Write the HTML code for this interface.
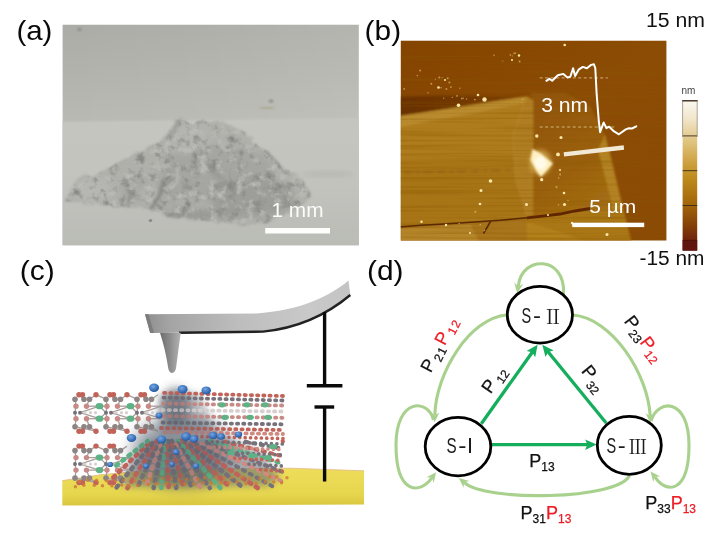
<!DOCTYPE html>
<html lang="en"><head><meta charset="utf-8"><title>Figure</title>
<style>html,body{margin:0;padding:0;background:#fff;}svg{display:block;opacity:0.999;}</style></head>
<body>
<svg width="720" height="551" viewBox="0 0 720 551">
<rect width="720" height="551" fill="#ffffff"/>

<defs>
  <clipPath id="clipA"><rect x="62.6" y="24.8" width="296.2" height="220.5"/></clipPath>
  <clipPath id="clipPile"><polygon points="64.0,200.0 70.0,193.0 77.0,180.0 83.0,175.0 96.0,174.0 108.0,170.0 121.0,162.0 134.0,153.0 147.0,147.0 158.0,142.0 166.0,135.0 172.0,128.0 176.0,120.0 181.0,118.0 186.0,122.0 192.0,124.0 199.0,120.0 206.0,122.0 214.0,120.0 222.0,122.0 230.0,124.0 239.0,130.0 247.0,135.0 256.0,143.0 266.0,150.0 278.0,161.0 288.0,169.0 296.0,175.0 303.0,180.0 308.0,188.0 309.0,196.0 305.0,203.0 298.0,208.0 286.0,215.0 270.0,222.0 256.0,225.0 242.0,225.0 225.0,223.0 200.0,221.0 185.0,220.0 172.0,218.0 158.0,211.0 140.0,208.0 124.0,207.0 105.0,206.0 88.0,205.0 72.0,203.0"/></clipPath>
  <clipPath id="clipB"><rect x="400.8" y="40.7" width="265.6" height="199.9"/></clipPath>
  <linearGradient id="gA1" x1="0" y1="0" x2="0" y2="1">
    <stop offset="0" stop-color="#abaca5"/><stop offset="0.43" stop-color="#b9b9b3"/><stop offset="1" stop-color="#b9b9b3"/>
  </linearGradient>
  <linearGradient id="gA3" x1="0" y1="0" x2="1" y2="0">
    <stop offset="0" stop-color="#ffffff" stop-opacity="0"/><stop offset="0.4" stop-color="#ffffff" stop-opacity="0.03"/><stop offset="1" stop-color="#ffffff" stop-opacity="0.1"/>
  </linearGradient>
  <linearGradient id="gA2" x1="0" y1="0" x2="0" y2="1">
    <stop offset="0" stop-color="#c5c6c0"/><stop offset="0.5" stop-color="#c2c3bd"/><stop offset="1" stop-color="#babbb5"/>
  </linearGradient>
  <linearGradient id="gB1" x1="0" y1="0" x2="1" y2="1">
    <stop offset="0" stop-color="#844400"/><stop offset="0.5" stop-color="#8c4c05"/><stop offset="1" stop-color="#8b4b05"/>
  </linearGradient>
  <linearGradient id="gRF" gradientUnits="userSpaceOnUse" x1="535" y1="110" x2="625" y2="240">
    <stop offset="0" stop-color="#93560a"/><stop offset="0.45" stop-color="#9b610d"/><stop offset="1" stop-color="#ab7919"/>
  </linearGradient>
  <linearGradient id="gBand" x1="0" y1="0" x2="1" y2="0">
    <stop offset="0" stop-color="#6a3000"/><stop offset="0.45" stop-color="#703600"/><stop offset="1" stop-color="#854500"/>
  </linearGradient>
  <linearGradient id="gCB" x1="0" y1="0" x2="0" y2="1">
    <stop offset="0" stop-color="#fbf8f0"/><stop offset="0.12" stop-color="#f1e6cc"/><stop offset="0.25" stop-color="#e2c98a"/>
    <stop offset="0.40" stop-color="#cfa445"/><stop offset="0.52" stop-color="#bd8a1c"/><stop offset="0.68" stop-color="#a4680c"/>
    <stop offset="0.82" stop-color="#874408"/><stop offset="0.93" stop-color="#70230c"/><stop offset="1" stop-color="#650e10"/>
  </linearGradient>
  <linearGradient id="gSub" x1="0" y1="0" x2="0" y2="1">
    <stop offset="0" stop-color="#eddd5a"/><stop offset="0.7" stop-color="#e6d64e"/><stop offset="1" stop-color="#d9c63f"/>
  </linearGradient>
  <linearGradient id="gCant" x1="0" y1="0" x2="1" y2="0">
    <stop offset="0" stop-color="#8e8e8e"/><stop offset="0.12" stop-color="#a4a4a4"/><stop offset="0.45" stop-color="#bdbdbd"/><stop offset="0.8" stop-color="#c9c9c9"/><stop offset="1" stop-color="#c4c4c4"/>
  </linearGradient>
  <linearGradient id="gTip" x1="0" y1="0" x2="1" y2="0">
    <stop offset="0" stop-color="#6c6c6c"/><stop offset="0.5" stop-color="#8e8e8e"/><stop offset="1" stop-color="#b4b4b4"/>
  </linearGradient>
  <radialGradient id="gBlue" cx="0.4" cy="0.35" r="0.7">
    <stop offset="0" stop-color="#78a6e0"/><stop offset="0.6" stop-color="#3b74bd"/><stop offset="1" stop-color="#285496"/>
  </radialGradient>
  <filter id="fB04" x="-2%" y="-5%" width="104%" height="110%"><feGaussianBlur stdDeviation="0.55"/></filter>
  <filter id="fB05" x="-20%" y="-20%" width="140%" height="140%"><feGaussianBlur stdDeviation="0.5"/></filter>
  <filter id="fB1" x="-20%" y="-20%" width="140%" height="140%"><feGaussianBlur stdDeviation="1"/></filter>
  <filter id="fB15" x="-5%" y="-5%" width="110%" height="110%"><feGaussianBlur stdDeviation="1.3"/></filter>
  <filter id="fB2" x="-20%" y="-50%" width="140%" height="200%"><feGaussianBlur stdDeviation="2"/></filter>
  <filter id="fB3" x="-30%" y="-30%" width="160%" height="160%"><feGaussianBlur stdDeviation="3.5"/></filter>
  <filter id="fB5" x="-50%" y="-50%" width="200%" height="200%"><feGaussianBlur stdDeviation="5"/></filter>
  <filter id="fB8" x="-50%" y="-50%" width="200%" height="200%"><feGaussianBlur stdDeviation="8"/></filter>
  <filter id="fStreak" x="0" y="0" width="100%" height="100%">
    <feTurbulence type="fractalNoise" baseFrequency="0.006 0.4" numOctaves="2" seed="11" result="t"/>
    <feColorMatrix in="t" type="matrix" values="0 0 0 0 0.25  0 0 0 0 0.1  0 0 0 0 0  0 0 0 -3 1.6"/>
  </filter>
  <filter id="fPile" x="-5%" y="-5%" width="110%" height="110%">
    <feTurbulence type="fractalNoise" baseFrequency="0.08" numOctaves="3" seed="7" result="n"/>
    <feDisplacementMap in="SourceGraphic" in2="n" scale="7" xChannelSelector="R" yChannelSelector="G" result="d"/>
    <feGaussianBlur in="d" stdDeviation="1.1" result="db"/>
    <feTurbulence type="fractalNoise" baseFrequency="0.11" numOctaves="4" seed="3" result="n2"/>
    <feColorMatrix in="n2" type="matrix" values="0 0 0 0 0  0 0 0 0 0  0 0 0 0 0  3.0 0 0 0 -1.5" result="a2"/>
    <feFlood flood-color="#888884" result="fl"/>
    <feComposite in="fl" in2="a2" operator="in" result="spots"/>
    <feComposite in="spots" in2="db" operator="in" result="spots2"/>
    <feColorMatrix in="n2" type="matrix" values="0 0 0 0 0  0 0 0 0 0  0 0 0 0 0  0 -3.2 0 0 1.5" result="a3"/>
    <feFlood flood-color="#bdbdb8" result="fl2"/>
    <feComposite in="fl2" in2="a3" operator="in" result="lt"/>
    <feComposite in="lt" in2="db" operator="in" result="lt2"/>
    <feMerge result="m"><feMergeNode in="db"/><feMergeNode in="spots2"/><feMergeNode in="lt2"/></feMerge>
    <feGaussianBlur in="m" stdDeviation="0.55"/>
  </filter>
</defs>


<g clip-path="url(#clipA)">
  <rect x="62" y="24" width="298" height="222" fill="url(#gA1)"/>
  <rect x="62" y="24" width="298" height="100" fill="url(#gA3)"/>
  <polygon points="55,121.8 365,118.2 365,250 55,250" fill="url(#gA2)" filter="url(#fB1)"/>
  <g filter="url(#fPile)">
    <polygon points="64.0,200.0 70.0,193.0 77.0,180.0 83.0,175.0 96.0,174.0 108.0,170.0 121.0,162.0 134.0,153.0 147.0,147.0 158.0,142.0 166.0,135.0 172.0,128.0 176.0,120.0 181.0,118.0 186.0,122.0 192.0,124.0 199.0,120.0 206.0,122.0 214.0,120.0 222.0,122.0 230.0,124.0 239.0,130.0 247.0,135.0 256.0,143.0 266.0,150.0 278.0,161.0 288.0,169.0 296.0,175.0 303.0,180.0 308.0,188.0 309.0,196.0 305.0,203.0 298.0,208.0 286.0,215.0 270.0,222.0 256.0,225.0 242.0,225.0 225.0,223.0 200.0,221.0 185.0,220.0 172.0,218.0 158.0,211.0 140.0,208.0 124.0,207.0 105.0,206.0 88.0,205.0 72.0,203.0" fill="#b0b0ab"/>
    <g clip-path="url(#clipPile)"><g filter="url(#fB3)">
    <ellipse cx="218" cy="174" rx="58" ry="28" fill="#a5a5a1"/>
    <ellipse cx="252" cy="198" rx="42" ry="20" fill="#9d9d99"/>
    <ellipse cx="155" cy="190" rx="35" ry="14" fill="#a4a4a0"/>
    <ellipse cx="92" cy="189" rx="20" ry="11" fill="#b6b6b2"/>
    <ellipse cx="190" cy="138" rx="20" ry="13" fill="#b4b4b0"/>
    <ellipse cx="190" cy="215" rx="45" ry="6" fill="#989894"/>
    <ellipse cx="151" cy="193" rx="13" ry="10" fill="#b3b3af"/>
    </g>
    <g filter="url(#fB15)" fill="none" stroke-linecap="round">
      <path d="M128,181 L130,203" stroke="#8c8c88" stroke-width="4"/>
      <path d="M169,173 L160,192 L152,208" stroke="#878783" stroke-width="4"/>
      <path d="M112,167 L134,150 L160,141" stroke="#9a9a96" stroke-width="3"/>
      <path d="M200,150 L215,175 L240,190" stroke="#959591" stroke-width="3"/>
      <path d="M178,122 L170,140" stroke="#9a9a96" stroke-width="3"/>
    </g></g>
  </g>
  <ellipse cx="328" cy="174" rx="26" ry="2.5" fill="#b2b2ac" opacity="0.7" filter="url(#fB2)"/>
  <ellipse cx="79.5" cy="29.5" rx="2.2" ry="1.8" fill="#8e8e8a" filter="url(#fB1)"/>
  <ellipse cx="271" cy="101" rx="2.5" ry="1.6" fill="#8c8c86" filter="url(#fB1)"/>
  <ellipse cx="267" cy="108" rx="8" ry="1" fill="#a8a890" filter="url(#fB1)"/>
  <ellipse cx="150.5" cy="220.5" rx="1.8" ry="1.5" fill="#8a8a86" filter="url(#fB05)"/>
</g>
<rect x="265.2" y="228" width="64.8" height="5.5" fill="#fdfdfb"/>
<text x="271.5" y="217.3" font-size="20" fill="#fbfbf8" font-family="'Liberation Sans', Arial, sans-serif" textLength="52" lengthAdjust="spacingAndGlyphs">1 mm</text>


<g clip-path="url(#clipB)">
  <rect x="400" y="40" width="268" height="202" fill="url(#gB1)"/>
  <g filter="url(#fB15)">
    <!-- dark step band -->
    <polygon points="400,96.5 440,95.5 490,95.5 527,94.5 531,97 500,101.5 459,108 430,112.5 400,118" fill="url(#gBand)"/>
    <!-- left big flake -->
    <polygon points="400,116 430,111.5 459,107 500,100.5 527,96.5 533.5,100 533.5,215 527,217.5 500,220 475,222 440,224 400,226.5" fill="#ae7c1e"/>
    <polygon points="400,116 430,111.5 459,107 500,100.5 527,96.5 529,103 500,108 459,116 430,121 400,127" fill="#b98b2e"/>
    <polygon points="400,160 520,155 530,215 400,226" fill="#a06c14" opacity="0.45"/>
    <!-- fold -->
    <polygon points="527,97 533.5,101 533.5,215 528,217 517,180 512.5,135" fill="#b07e20"/>
    <polyline points="526,98 513,135 516,180 527,216" fill="none" stroke="#b5862a" stroke-width="1.3"/>
    <line x1="404" y1="172.5" x2="510" y2="170" stroke="#956214" stroke-width="3" stroke-dasharray="7,5,3,4,9,6" opacity="0.55"/>
    <!-- right flake -->
    <polygon points="530,93 565,93 590,106 605,134.5 612,160 622,205 631.5,243 527,243 528,217 533.5,215 533.5,100" fill="url(#gRF)"/>
    <polygon points="605,134.5 631.5,243 619,243 611,200 598,150" fill="#b38222"/>
    <!-- below crack -->
    <polygon points="400,227.5 440,225 475,223 500,221 527,218.5 527,243 400,243" fill="#b5852a"/>
    <polygon points="470,224 500,221 527,218.5 527,243 480,243" fill="#a57116" opacity="0.8"/>
    <polygon points="527,218.5 560,214 585,210.5 600,210 623,210 631.5,243 527,243" fill="#aa7718"/>
    <polygon points="527,222 560,232 590,243 527,243" fill="#b4831f" opacity="0.8"/>
  </g>
  <rect x="400" y="40" width="268" height="202" filter="url(#fStreak)" opacity="0.35"/>
  <polyline points="400,227 421,225.3 440,224.2 475,222 500,220.3 527,217.8" fill="none" stroke="#5a2a00" stroke-width="1.5" filter="url(#fB05)"/>
  <polyline points="527,217.8 545,215.8 560,214 575,211 590,208.5" fill="none" stroke="#5e2602" stroke-width="2.8" filter="url(#fB05)"/>
  <polyline points="490.5,221.5 483.5,233.5" fill="none" stroke="#5a2a00" stroke-width="1.6" filter="url(#fB05)"/>
  <!-- bright particle -->
  <ellipse cx="540.5" cy="162.5" rx="11" ry="13" fill="#e6c46a" opacity="0.55" filter="url(#fB2)"/>
  <g filter="url(#fB1)">
    <polygon points="532.5,149 541,153.5 553,163.5 546,171.5 541,177 536,170.5 530.5,160" fill="#fff1c4"/>
    <ellipse cx="540.5" cy="163" rx="6" ry="6.5" fill="#fffbe8"/>
  </g>
  <g fill="#fbe7a8" filter="url(#fB05)">
  <circle cx="558" cy="154.4" r="1.9"/>
<circle cx="561" cy="137.4" r="1.5"/>
<circle cx="541.7" cy="179.7" r="1.6"/>
<circle cx="536.8" cy="136" r="1.7"/>
<circle cx="458.5" cy="105.2" r="1.8"/>
<circle cx="484.5" cy="99.5" r="2.2"/>
<circle cx="490.5" cy="181" r="1.8"/>
<circle cx="481" cy="190.5" r="1.5"/>
<circle cx="480" cy="204" r="1.3"/>
<circle cx="526.5" cy="204.5" r="1.5"/>
<circle cx="564.5" cy="204.5" r="1.6"/>
<circle cx="564" cy="193" r="1.3"/>
<circle cx="607" cy="234.5" r="1.5"/>
<circle cx="564.7" cy="45" r="1.3"/>
<circle cx="438.5" cy="87.5" r="1.3"/>
<circle cx="519" cy="55.5" r="1.2"/>
<circle cx="446" cy="225" r="1.2"/>
<circle cx="421.5" cy="221.8" r="1.2"/>
<circle cx="572" cy="223" r="1.2"/>
<circle cx="560" cy="170" r="1.0"/>
<circle cx="548" cy="215" r="1.0"/>
<circle cx="470" cy="233" r="1.0"/>
<circle cx="512" cy="60" r="1.0"/>
<circle cx="445" cy="80" r="1.0"/>
<circle cx="478" cy="95" r="1.3"/>
  </g>
  <g fill="#e9c981" opacity="0.6" filter="url(#fB05)">
  <circle cx="428.1" cy="92.7" r="0.7"/>
  <circle cx="446.4" cy="89.0" r="0.9"/>
  <circle cx="450.9" cy="87.1" r="0.9"/>
  <circle cx="441.1" cy="87.7" r="0.8"/>
  <circle cx="439.3" cy="77.4" r="1.0"/>
  <circle cx="452.3" cy="97.4" r="0.7"/>
  <circle cx="404.2" cy="88.9" r="0.9"/>
  <circle cx="447.7" cy="78.3" r="1.0"/>
  <circle cx="457.0" cy="95.9" r="0.9"/>
  <circle cx="442.1" cy="77.6" r="0.6"/>
  <circle cx="443.7" cy="98.2" r="0.7"/>
  <circle cx="449.4" cy="82.5" r="1.0"/>
  <circle cx="514.0" cy="53.4" r="0.8"/>
  <circle cx="510.3" cy="55.1" r="0.8"/>
  <circle cx="515.2" cy="53.1" r="0.9"/>
  <circle cx="519.6" cy="61.4" r="1.0"/>
  <circle cx="512.3" cy="55.9" r="0.6"/>
  <circle cx="510.5" cy="54.7" r="0.6"/>
  <circle cx="494.0" cy="55.3" r="0.8"/>
  <circle cx="502.8" cy="61.0" r="0.6"/>
  <circle cx="461.9" cy="98.5" r="0.9"/>
  <circle cx="474.8" cy="99.6" r="0.9"/>
  <circle cx="463.3" cy="98.2" r="0.7"/>
  <circle cx="522.8" cy="99.4" r="0.7"/>
  <circle cx="459.8" cy="88.2" r="0.7"/>
  <circle cx="466.6" cy="99.0" r="0.8"/>
  <circle cx="420.1" cy="70.5" r="1.0"/>
  <circle cx="431.3" cy="83.8" r="1.0"/>
  <circle cx="417.4" cy="75.6" r="0.8"/>
  <circle cx="435.4" cy="79.1" r="0.6"/>
  <circle cx="558.7" cy="178.1" r="0.8"/>
  <circle cx="558.5" cy="204.8" r="0.8"/>
  <circle cx="568.0" cy="200.4" r="0.7"/>
  <circle cx="556.5" cy="186.9" r="1.0"/>
  <circle cx="560.1" cy="174.6" r="1.0"/>
  <circle cx="480.3" cy="224.8" r="0.8"/>
  <circle cx="484.6" cy="230.4" r="0.8"/>
  <circle cx="459.2" cy="223.5" r="0.8"/>
  <circle cx="475.4" cy="211.8" r="1.0"/>
  </g>
</g>
<!-- profile -->
<line x1="539.7" y1="77.9" x2="607.8" y2="77.9" stroke="#e6d2a4" stroke-width="1" stroke-dasharray="3,2.5" opacity="0.75"/>
<line x1="539.7" y1="127" x2="615.3" y2="127" stroke="#e6d2a4" stroke-width="1" stroke-dasharray="3,2.5" opacity="0.75"/>
<polyline points="546.4,80.8 549.4,78.8 552.2,80.8 557.8,75.3 563.3,73.9 567.5,77.4 570.3,76.7 573.1,68.3 575.1,76.0 578.6,69.7 582.8,66.9 586.9,68.3 591.1,64.9 593.9,64.2 595.3,68.3 596.7,94.7 598.8,121.1 600.1,132.2 603.6,122.5 606.4,128.1 609.2,126.7 613.3,130.8 618.9,134.3 625.8,129.4 628.9,128.3 632.0,128.5 636.3,126.3" fill="none" stroke="#ffffff" stroke-width="2" stroke-linejoin="round" stroke-linecap="round"/>
<line x1="563.9" y1="154.4" x2="623.9" y2="147.5" stroke="#f1e9d6" stroke-width="4.3"/>
<text x="541.2" y="111.6" font-size="19.8" fill="#ffffff" font-family="'Liberation Sans', Arial, sans-serif" textLength="47" lengthAdjust="spacingAndGlyphs">3 nm</text>
<text x="589.2" y="213" font-size="19.2" fill="#ffffff" font-family="'Liberation Sans', Arial, sans-serif" textLength="47" lengthAdjust="spacingAndGlyphs">5 µm</text>
<rect x="572.2" y="222.7" width="72" height="4.4" fill="#ffffff"/>
<!-- colourbar -->
<rect x="682.6" y="100.8" width="14.6" height="149.8" fill="url(#gCB)"/>
<rect x="682.6" y="240.6" width="14.6" height="10" fill="#5f160e"/>
<g stroke="#3a2a1a" stroke-width="0.9">
  <line x1="682.1" y1="100.8" x2="697.7" y2="100.8" stroke-width="1.4"/>
  <line x1="682.6" y1="135.9" x2="697.2" y2="135.9"/>
  <line x1="682.6" y1="170.7" x2="697.2" y2="170.7"/>
  <line x1="682.6" y1="205.5" x2="697.2" y2="205.5"/>
  <line x1="682.6" y1="240.4" x2="697.2" y2="240.4" stroke="#4a1208"/>
</g>
<line x1="682.6" y1="100.8" x2="682.6" y2="137" stroke="#8a8070" stroke-width="0.7"/>
<line x1="697.2" y1="100.8" x2="697.2" y2="137" stroke="#8a8070" stroke-width="0.7"/>
<text x="681.5" y="93.8" font-size="10" fill="#444" font-family="'Liberation Sans', Arial, sans-serif">nm</text>
<text x="646" y="27.2" font-size="20" fill="#111" font-family="'Liberation Sans', Arial, sans-serif" textLength="59" lengthAdjust="spacingAndGlyphs">15 nm</text>
<text x="639.5" y="265.4" font-size="20" fill="#111" font-family="'Liberation Sans', Arial, sans-serif" textLength="65" lengthAdjust="spacingAndGlyphs">-15 nm</text>


<!-- substrate -->
<polygon points="62.3,480.6 80,478 100,474.8 140,471 220,468.6 290,468.2 364,470.8 364,504.6 62.3,505.4" fill="url(#gSub)"/>
<polyline points="62.3,480.6 80,478 100,474.8 140,471 220,468.6 290,468.2 364,470.8" fill="none" stroke="#e3b98a" stroke-width="1" opacity="0.8"/>
<!-- cantilever -->
<path d="M145,314.2 L256,313.4 C300,311 330,296 348.5,280.6 L350.3,295 C330,312 300,328 263,331.6 L150.2,333 Z" fill="url(#gCant)"/>
<path d="M179,332.7 L263,331.6 C300,328 330,312 350.3,295" fill="none" stroke="#222222" stroke-width="2.4"/>
<path d="M145,314.2 L150.2,333 L154,333 L148.5,314.2 Z" fill="#7d7d7d"/>
<path d="M160,332.8 L180.8,332.8 C179,345 177.5,358 176.2,367 C175.6,374.5 169.4,375 168.2,368 C166.5,356 163.5,344 160,332.8 Z" fill="url(#gTip)"/>
<!-- glow under tip -->
<ellipse cx="176" cy="405" rx="15" ry="18" fill="#3a4350" opacity="0.5" filter="url(#fB5)"/>
<ellipse cx="183" cy="452" rx="52" ry="36" fill="#485563" opacity="0.4" filter="url(#fB8)"/>
<polygon points="152,441 225,438 262,452 280,478 268,486 122,487 128,465" fill="#5c6672" opacity="0.55" filter="url(#fB3)"/>
<polygon points="160,395 200,393 215,432 160,436" fill="#5f6874" opacity="0.4" filter="url(#fB3)"/>
<g id="crystal" filter="url(#fB04)">
<line x1="75.0" y1="399.2" x2="76.0" y2="406.2" stroke="#a89e9c" stroke-width="1.3"/>
<line x1="76.0" y1="406.2" x2="75.0" y2="412.7" stroke="#a89e9c" stroke-width="1.3"/>
<line x1="75.0" y1="412.7" x2="76.0" y2="418.7" stroke="#a89e9c" stroke-width="1.3"/>
<line x1="76.0" y1="418.7" x2="75.0" y2="426.7" stroke="#a89e9c" stroke-width="1.3"/>
<line x1="75.0" y1="426.7" x2="96.0" y2="431.2" stroke="#a89e9c" stroke-width="1.3"/>
<line x1="79.0" y1="394.7" x2="84.0" y2="399.2" stroke="#a89e9c" stroke-width="1.3"/>
<line x1="89.5" y1="399.2" x2="96.0" y2="394.7" stroke="#a89e9c" stroke-width="1.3"/>
<line x1="86.5" y1="406.2" x2="89.5" y2="399.2" stroke="#a89e9c" stroke-width="1.3"/>
<line x1="86.5" y1="418.7" x2="89.5" y2="426.7" stroke="#a89e9c" stroke-width="1.3"/>
<line x1="84.0" y1="426.7" x2="79.0" y2="431.2" stroke="#a89e9c" stroke-width="1.3"/>
<line x1="89.5" y1="426.7" x2="96.0" y2="431.2" stroke="#a89e9c" stroke-width="1.3"/>
<line x1="86.5" y1="406.2" x2="99.5" y2="406.2" stroke="#a89e9c" stroke-width="1.3"/>
<line x1="86.5" y1="418.7" x2="99.5" y2="418.7" stroke="#a89e9c" stroke-width="1.3"/>
<line x1="80.0" y1="412.7" x2="99.5" y2="406.2" stroke="#a89e9c" stroke-width="1.3"/>
<line x1="80.0" y1="412.7" x2="99.5" y2="418.7" stroke="#a89e9c" stroke-width="1.3"/>
<circle cx="79.0" cy="394.7" r="2.7" fill="#c2645a"/>
<circle cx="82.5" cy="394.7" r="2.7" fill="#c2645a"/>
<circle cx="75.0" cy="399.2" r="2.8" fill="#8d8484"/>
<circle cx="84.0" cy="399.2" r="2.8" fill="#8d8484"/>
<circle cx="89.5" cy="399.2" r="2.8" fill="#8d8484"/>
<circle cx="76.0" cy="406.2" r="2.7" fill="#c78a85"/>
<circle cx="86.5" cy="406.2" r="2.7" fill="#c78a85"/>
<circle cx="75.0" cy="412.7" r="2.0" fill="#77727a"/>
<circle cx="80.0" cy="412.7" r="2.0" fill="#77727a"/>
<circle cx="85.0" cy="412.7" r="1.6" fill="#d8d0d0"/>
<circle cx="90.5" cy="412.7" r="1.6" fill="#d8d0d0"/>
<circle cx="95.5" cy="412.7" r="1.6" fill="#d8d0d0"/>
<circle cx="76.0" cy="418.7" r="2.7" fill="#c78a85"/>
<circle cx="86.5" cy="418.7" r="2.7" fill="#c78a85"/>
<circle cx="75.0" cy="426.7" r="2.8" fill="#8d8484"/>
<circle cx="84.0" cy="426.7" r="2.8" fill="#8d8484"/>
<circle cx="89.5" cy="426.7" r="2.8" fill="#8d8484"/>
<circle cx="79.0" cy="431.2" r="2.7" fill="#c2645a"/>
<circle cx="82.5" cy="431.2" r="2.7" fill="#c2645a"/>
<line x1="96.0" y1="394.7" x2="106.0" y2="399.2" stroke="#a89e9c" stroke-width="1.3"/>
<line x1="106.0" y1="399.2" x2="107.0" y2="406.2" stroke="#a89e9c" stroke-width="1.3"/>
<line x1="107.0" y1="406.2" x2="106.0" y2="412.7" stroke="#a89e9c" stroke-width="1.3"/>
<line x1="106.0" y1="412.7" x2="107.0" y2="418.7" stroke="#a89e9c" stroke-width="1.3"/>
<line x1="107.0" y1="418.7" x2="106.0" y2="426.7" stroke="#a89e9c" stroke-width="1.3"/>
<line x1="106.0" y1="426.7" x2="127.0" y2="431.2" stroke="#a89e9c" stroke-width="1.3"/>
<line x1="110.0" y1="394.7" x2="115.0" y2="399.2" stroke="#a89e9c" stroke-width="1.3"/>
<line x1="120.5" y1="399.2" x2="127.0" y2="394.7" stroke="#a89e9c" stroke-width="1.3"/>
<line x1="117.5" y1="406.2" x2="120.5" y2="399.2" stroke="#a89e9c" stroke-width="1.3"/>
<line x1="117.5" y1="418.7" x2="120.5" y2="426.7" stroke="#a89e9c" stroke-width="1.3"/>
<line x1="115.0" y1="426.7" x2="110.0" y2="431.2" stroke="#a89e9c" stroke-width="1.3"/>
<line x1="120.5" y1="426.7" x2="127.0" y2="431.2" stroke="#a89e9c" stroke-width="1.3"/>
<line x1="99.5" y1="406.2" x2="107.0" y2="406.2" stroke="#a89e9c" stroke-width="1.3"/>
<line x1="99.5" y1="418.7" x2="107.0" y2="418.7" stroke="#a89e9c" stroke-width="1.3"/>
<line x1="117.5" y1="406.2" x2="130.5" y2="406.2" stroke="#a89e9c" stroke-width="1.3"/>
<line x1="117.5" y1="418.7" x2="130.5" y2="418.7" stroke="#a89e9c" stroke-width="1.3"/>
<line x1="99.5" y1="406.2" x2="106.0" y2="412.7" stroke="#a89e9c" stroke-width="1.3"/>
<line x1="99.5" y1="418.7" x2="106.0" y2="412.7" stroke="#a89e9c" stroke-width="1.3"/>
<line x1="111.0" y1="412.7" x2="130.5" y2="406.2" stroke="#a89e9c" stroke-width="1.3"/>
<line x1="111.0" y1="412.7" x2="130.5" y2="418.7" stroke="#a89e9c" stroke-width="1.3"/>
<circle cx="96.0" cy="394.7" r="2.7" fill="#c2645a"/>
<circle cx="110.0" cy="394.7" r="2.7" fill="#c2645a"/>
<circle cx="113.5" cy="394.7" r="2.7" fill="#c2645a"/>
<circle cx="106.0" cy="399.2" r="2.8" fill="#8d8484"/>
<circle cx="115.0" cy="399.2" r="2.8" fill="#8d8484"/>
<circle cx="120.5" cy="399.2" r="2.8" fill="#8d8484"/>
<circle cx="107.0" cy="406.2" r="2.7" fill="#c78a85"/>
<circle cx="117.5" cy="406.2" r="2.7" fill="#c78a85"/>
<ellipse cx="99.5" cy="406.2" rx="3.9" ry="3.1" fill="#5fb286"/>
<circle cx="106.0" cy="412.7" r="2.0" fill="#77727a"/>
<circle cx="111.0" cy="412.7" r="2.0" fill="#77727a"/>
<circle cx="116.0" cy="412.7" r="1.6" fill="#d8d0d0"/>
<circle cx="121.5" cy="412.7" r="1.6" fill="#d8d0d0"/>
<circle cx="126.5" cy="412.7" r="1.6" fill="#d8d0d0"/>
<circle cx="107.0" cy="418.7" r="2.7" fill="#c78a85"/>
<circle cx="117.5" cy="418.7" r="2.7" fill="#c78a85"/>
<ellipse cx="99.5" cy="418.7" rx="3.9" ry="3.1" fill="#5fb286"/>
<circle cx="106.0" cy="426.7" r="2.8" fill="#8d8484"/>
<circle cx="115.0" cy="426.7" r="2.8" fill="#8d8484"/>
<circle cx="120.5" cy="426.7" r="2.8" fill="#8d8484"/>
<circle cx="96.0" cy="431.2" r="2.7" fill="#c2645a"/>
<circle cx="110.0" cy="431.2" r="2.7" fill="#c2645a"/>
<circle cx="113.5" cy="431.2" r="2.7" fill="#c2645a"/>
<line x1="127.0" y1="394.7" x2="137.0" y2="399.2" stroke="#a89e9c" stroke-width="1.3"/>
<line x1="137.0" y1="399.2" x2="138.0" y2="406.2" stroke="#a89e9c" stroke-width="1.3"/>
<line x1="138.0" y1="406.2" x2="137.0" y2="412.7" stroke="#a89e9c" stroke-width="1.3"/>
<line x1="137.0" y1="412.7" x2="138.0" y2="418.7" stroke="#a89e9c" stroke-width="1.3"/>
<line x1="138.0" y1="418.7" x2="137.0" y2="426.7" stroke="#a89e9c" stroke-width="1.3"/>
<line x1="137.0" y1="426.7" x2="158.0" y2="431.2" stroke="#a89e9c" stroke-width="1.3"/>
<line x1="141.0" y1="394.7" x2="146.0" y2="399.2" stroke="#a89e9c" stroke-width="1.3"/>
<line x1="151.5" y1="399.2" x2="158.0" y2="394.7" stroke="#a89e9c" stroke-width="1.3"/>
<line x1="148.5" y1="406.2" x2="151.5" y2="399.2" stroke="#a89e9c" stroke-width="1.3"/>
<line x1="148.5" y1="418.7" x2="151.5" y2="426.7" stroke="#a89e9c" stroke-width="1.3"/>
<line x1="146.0" y1="426.7" x2="141.0" y2="431.2" stroke="#a89e9c" stroke-width="1.3"/>
<line x1="151.5" y1="426.7" x2="158.0" y2="431.2" stroke="#a89e9c" stroke-width="1.3"/>
<line x1="130.5" y1="406.2" x2="138.0" y2="406.2" stroke="#a89e9c" stroke-width="1.3"/>
<line x1="130.5" y1="418.7" x2="138.0" y2="418.7" stroke="#a89e9c" stroke-width="1.3"/>
<line x1="148.5" y1="406.2" x2="161.5" y2="406.2" stroke="#a89e9c" stroke-width="1.3"/>
<line x1="148.5" y1="418.7" x2="161.5" y2="418.7" stroke="#a89e9c" stroke-width="1.3"/>
<line x1="130.5" y1="406.2" x2="137.0" y2="412.7" stroke="#a89e9c" stroke-width="1.3"/>
<line x1="130.5" y1="418.7" x2="137.0" y2="412.7" stroke="#a89e9c" stroke-width="1.3"/>
<line x1="142.0" y1="412.7" x2="161.5" y2="406.2" stroke="#a89e9c" stroke-width="1.3"/>
<line x1="142.0" y1="412.7" x2="161.5" y2="418.7" stroke="#a89e9c" stroke-width="1.3"/>
<circle cx="127.0" cy="394.7" r="2.7" fill="#c2645a"/>
<circle cx="141.0" cy="394.7" r="2.7" fill="#c2645a"/>
<circle cx="144.5" cy="394.7" r="2.7" fill="#c2645a"/>
<circle cx="137.0" cy="399.2" r="2.8" fill="#8d8484"/>
<circle cx="146.0" cy="399.2" r="2.8" fill="#8d8484"/>
<circle cx="151.5" cy="399.2" r="2.8" fill="#8d8484"/>
<circle cx="138.0" cy="406.2" r="2.7" fill="#c78a85"/>
<circle cx="148.5" cy="406.2" r="2.7" fill="#c78a85"/>
<ellipse cx="130.5" cy="406.2" rx="3.9" ry="3.1" fill="#5fb286"/>
<circle cx="137.0" cy="412.7" r="2.0" fill="#77727a"/>
<circle cx="142.0" cy="412.7" r="2.0" fill="#77727a"/>
<circle cx="147.0" cy="412.7" r="1.6" fill="#d8d0d0"/>
<circle cx="152.5" cy="412.7" r="1.6" fill="#d8d0d0"/>
<circle cx="157.5" cy="412.7" r="1.6" fill="#d8d0d0"/>
<circle cx="138.0" cy="418.7" r="2.7" fill="#c78a85"/>
<circle cx="148.5" cy="418.7" r="2.7" fill="#c78a85"/>
<ellipse cx="130.5" cy="418.7" rx="3.9" ry="3.1" fill="#5fb286"/>
<circle cx="137.0" cy="426.7" r="2.8" fill="#8d8484"/>
<circle cx="146.0" cy="426.7" r="2.8" fill="#8d8484"/>
<circle cx="151.5" cy="426.7" r="2.8" fill="#8d8484"/>
<circle cx="127.0" cy="431.2" r="2.7" fill="#c2645a"/>
<circle cx="141.0" cy="431.2" r="2.7" fill="#c2645a"/>
<circle cx="144.5" cy="431.2" r="2.7" fill="#c2645a"/>
<line x1="75.0" y1="450.6" x2="76.0" y2="457.6" stroke="#a89e9c" stroke-width="1.3"/>
<line x1="76.0" y1="457.6" x2="75.0" y2="464.1" stroke="#a89e9c" stroke-width="1.3"/>
<line x1="75.0" y1="464.1" x2="76.0" y2="470.1" stroke="#a89e9c" stroke-width="1.3"/>
<line x1="76.0" y1="470.1" x2="75.0" y2="478.1" stroke="#a89e9c" stroke-width="1.3"/>
<line x1="75.0" y1="478.1" x2="96.0" y2="482.6" stroke="#a89e9c" stroke-width="1.3"/>
<line x1="79.0" y1="446.1" x2="84.0" y2="450.6" stroke="#a89e9c" stroke-width="1.3"/>
<line x1="89.5" y1="450.6" x2="96.0" y2="446.1" stroke="#a89e9c" stroke-width="1.3"/>
<line x1="86.5" y1="457.6" x2="89.5" y2="450.6" stroke="#a89e9c" stroke-width="1.3"/>
<line x1="86.5" y1="470.1" x2="89.5" y2="478.1" stroke="#a89e9c" stroke-width="1.3"/>
<line x1="84.0" y1="478.1" x2="79.0" y2="482.6" stroke="#a89e9c" stroke-width="1.3"/>
<line x1="89.5" y1="478.1" x2="96.0" y2="482.6" stroke="#a89e9c" stroke-width="1.3"/>
<line x1="86.5" y1="457.6" x2="99.5" y2="457.6" stroke="#a89e9c" stroke-width="1.3"/>
<line x1="86.5" y1="470.1" x2="99.5" y2="470.1" stroke="#a89e9c" stroke-width="1.3"/>
<line x1="80.0" y1="464.1" x2="99.5" y2="457.6" stroke="#a89e9c" stroke-width="1.3"/>
<line x1="80.0" y1="464.1" x2="99.5" y2="470.1" stroke="#a89e9c" stroke-width="1.3"/>
<circle cx="79.0" cy="446.1" r="2.7" fill="#c2645a"/>
<circle cx="82.5" cy="446.1" r="2.7" fill="#c2645a"/>
<circle cx="75.0" cy="450.6" r="2.8" fill="#8d8484"/>
<circle cx="84.0" cy="450.6" r="2.8" fill="#8d8484"/>
<circle cx="89.5" cy="450.6" r="2.8" fill="#8d8484"/>
<circle cx="76.0" cy="457.6" r="2.7" fill="#c78a85"/>
<circle cx="86.5" cy="457.6" r="2.7" fill="#c78a85"/>
<circle cx="75.0" cy="464.1" r="2.0" fill="#77727a"/>
<circle cx="80.0" cy="464.1" r="2.0" fill="#77727a"/>
<circle cx="85.0" cy="464.1" r="1.6" fill="#d8d0d0"/>
<circle cx="90.5" cy="464.1" r="1.6" fill="#d8d0d0"/>
<circle cx="95.5" cy="464.1" r="1.6" fill="#d8d0d0"/>
<circle cx="76.0" cy="470.1" r="2.7" fill="#c78a85"/>
<circle cx="86.5" cy="470.1" r="2.7" fill="#c78a85"/>
<circle cx="75.0" cy="478.1" r="2.8" fill="#8d8484"/>
<circle cx="84.0" cy="478.1" r="2.8" fill="#8d8484"/>
<circle cx="89.5" cy="478.1" r="2.8" fill="#8d8484"/>
<circle cx="79.0" cy="482.6" r="2.7" fill="#c2645a"/>
<circle cx="82.5" cy="482.6" r="2.7" fill="#c2645a"/>
<line x1="96.0" y1="446.1" x2="106.0" y2="450.6" stroke="#a89e9c" stroke-width="1.3"/>
<line x1="106.0" y1="450.6" x2="107.0" y2="457.6" stroke="#a89e9c" stroke-width="1.3"/>
<line x1="107.0" y1="457.6" x2="106.0" y2="464.1" stroke="#a89e9c" stroke-width="1.3"/>
<line x1="106.0" y1="464.1" x2="107.0" y2="470.1" stroke="#a89e9c" stroke-width="1.3"/>
<line x1="107.0" y1="470.1" x2="106.0" y2="478.1" stroke="#a89e9c" stroke-width="1.3"/>
<line x1="106.0" y1="478.1" x2="127.0" y2="482.6" stroke="#a89e9c" stroke-width="1.3"/>
<line x1="110.0" y1="446.1" x2="115.0" y2="450.6" stroke="#a89e9c" stroke-width="1.3"/>
<line x1="120.5" y1="450.6" x2="127.0" y2="446.1" stroke="#a89e9c" stroke-width="1.3"/>
<line x1="117.5" y1="457.6" x2="120.5" y2="450.6" stroke="#a89e9c" stroke-width="1.3"/>
<line x1="117.5" y1="470.1" x2="120.5" y2="478.1" stroke="#a89e9c" stroke-width="1.3"/>
<line x1="115.0" y1="478.1" x2="110.0" y2="482.6" stroke="#a89e9c" stroke-width="1.3"/>
<line x1="120.5" y1="478.1" x2="127.0" y2="482.6" stroke="#a89e9c" stroke-width="1.3"/>
<line x1="99.5" y1="457.6" x2="107.0" y2="457.6" stroke="#a89e9c" stroke-width="1.3"/>
<line x1="99.5" y1="470.1" x2="107.0" y2="470.1" stroke="#a89e9c" stroke-width="1.3"/>
<line x1="117.5" y1="457.6" x2="130.5" y2="457.6" stroke="#a89e9c" stroke-width="1.3"/>
<line x1="117.5" y1="470.1" x2="130.5" y2="470.1" stroke="#a89e9c" stroke-width="1.3"/>
<line x1="99.5" y1="457.6" x2="106.0" y2="464.1" stroke="#a89e9c" stroke-width="1.3"/>
<line x1="99.5" y1="470.1" x2="106.0" y2="464.1" stroke="#a89e9c" stroke-width="1.3"/>
<line x1="111.0" y1="464.1" x2="130.5" y2="457.6" stroke="#a89e9c" stroke-width="1.3"/>
<line x1="111.0" y1="464.1" x2="130.5" y2="470.1" stroke="#a89e9c" stroke-width="1.3"/>
<circle cx="96.0" cy="446.1" r="2.7" fill="#c2645a"/>
<circle cx="110.0" cy="446.1" r="2.7" fill="#c2645a"/>
<circle cx="113.5" cy="446.1" r="2.7" fill="#c2645a"/>
<circle cx="106.0" cy="450.6" r="2.8" fill="#8d8484"/>
<circle cx="115.0" cy="450.6" r="2.8" fill="#8d8484"/>
<circle cx="120.5" cy="450.6" r="2.8" fill="#8d8484"/>
<circle cx="107.0" cy="457.6" r="2.7" fill="#c78a85"/>
<circle cx="117.5" cy="457.6" r="2.7" fill="#c78a85"/>
<ellipse cx="99.5" cy="457.6" rx="3.9" ry="3.1" fill="#5fb286"/>
<circle cx="106.0" cy="464.1" r="2.0" fill="#77727a"/>
<circle cx="111.0" cy="464.1" r="2.0" fill="#77727a"/>
<circle cx="116.0" cy="464.1" r="1.6" fill="#d8d0d0"/>
<circle cx="121.5" cy="464.1" r="1.6" fill="#d8d0d0"/>
<circle cx="126.5" cy="464.1" r="1.6" fill="#d8d0d0"/>
<circle cx="107.0" cy="470.1" r="2.7" fill="#c78a85"/>
<circle cx="117.5" cy="470.1" r="2.7" fill="#c78a85"/>
<ellipse cx="99.5" cy="470.1" rx="3.9" ry="3.1" fill="#5fb286"/>
<circle cx="106.0" cy="478.1" r="2.8" fill="#8d8484"/>
<circle cx="115.0" cy="478.1" r="2.8" fill="#8d8484"/>
<circle cx="120.5" cy="478.1" r="2.8" fill="#8d8484"/>
<circle cx="96.0" cy="482.6" r="2.7" fill="#c2645a"/>
<circle cx="110.0" cy="482.6" r="2.7" fill="#c2645a"/>
<circle cx="113.5" cy="482.6" r="2.7" fill="#c2645a"/>
<line x1="161.0" y1="392.8" x2="283.0" y2="396.0" stroke="#c2645a" stroke-width="3.8" stroke-dasharray="1.2 5.0" stroke-dashoffset="3.1145084744485096" stroke-linecap="round" opacity="1"/>
<line x1="161.0" y1="397.5" x2="283.0" y2="400.5" stroke="#77727a" stroke-width="3.8" stroke-dasharray="1.2 5.0" stroke-dashoffset="3.708934946303647" stroke-linecap="round" opacity="1"/>
<line x1="161.0" y1="403.5" x2="283.0" y2="405.5" stroke="#c78a85" stroke-width="3.8" stroke-dasharray="1.2 5.0" stroke-dashoffset="3.9759678278284833" stroke-linecap="round" opacity="1"/>
<line x1="161.0" y1="410.0" x2="283.0" y2="411.5" stroke="#d8d0d0" stroke-width="3.8" stroke-dasharray="1.2 5.0" stroke-dashoffset="4.712251418885252" stroke-linecap="round" opacity="1"/>
<line x1="161.0" y1="416.0" x2="283.0" y2="417.8" stroke="#c78a85" stroke-width="3.8" stroke-dasharray="1.2 5.0" stroke-dashoffset="3.6994928736996533" stroke-linecap="round" opacity="1"/>
<line x1="161.0" y1="422.5" x2="283.0" y2="424.3" stroke="#77727a" stroke-width="3.8" stroke-dasharray="1.2 5.0" stroke-dashoffset="4.611624983327085" stroke-linecap="round" opacity="1"/>
<line x1="161.0" y1="428.0" x2="283.0" y2="430.0" stroke="#c2645a" stroke-width="3.8" stroke-dasharray="1.2 5.0" stroke-dashoffset="0.14502614141807368" stroke-linecap="round" opacity="1"/>
<line x1="161.0" y1="432.0" x2="283.0" y2="434.0" stroke="#d08a80" stroke-width="3.8" stroke-dasharray="1.2 5.0" stroke-dashoffset="2.3281132718905266" stroke-linecap="round" opacity="1"/>
<ellipse cx="222" cy="404.8" rx="3.8" ry="2.6" fill="#5fb286"/><ellipse cx="225" cy="417.3" rx="3.8" ry="2.6" fill="#5fb286"/>
<ellipse cx="247" cy="404.8" rx="3.8" ry="2.6" fill="#5fb286"/><ellipse cx="250" cy="417.3" rx="3.8" ry="2.6" fill="#5fb286"/>
<ellipse cx="265" cy="404.8" rx="3.8" ry="2.6" fill="#5fb286"/><ellipse cx="268" cy="417.3" rx="3.8" ry="2.6" fill="#5fb286"/>
<line x1="279.5" y1="441.0" x2="283.0" y2="441.4" stroke="#c2645a" stroke-width="4.0" stroke-dasharray="2.2 5.6" stroke-dashoffset="4.7167835849915685" stroke-linecap="round" opacity="1"/>
<line x1="241.0" y1="441.0" x2="283.0" y2="448.8" stroke="#77727a" stroke-width="4.0" stroke-dasharray="2.2 5.6" stroke-dashoffset="3.244872765684621" stroke-linecap="round" opacity="1"/>
<line x1="221.7" y1="441.0" x2="283.0" y2="456.3" stroke="#c2645a" stroke-width="4.0" stroke-dasharray="2.2 5.6" stroke-dashoffset="4.504502458753113" stroke-linecap="round" opacity="1"/>
<line x1="209.9" y1="441.0" x2="283.0" y2="464.0" stroke="#5fb286" stroke-width="4.0" stroke-dasharray="2.2 5.6" stroke-dashoffset="0.5660298232657218" stroke-linecap="round" opacity="1"/>
<line x1="202.0" y1="441.0" x2="283.0" y2="472.1" stroke="#77727a" stroke-width="4.0" stroke-dasharray="2.2 5.6" stroke-dashoffset="2.3453452389108187" stroke-linecap="round" opacity="1"/>
<line x1="195.5" y1="441.0" x2="283.0" y2="481.8" stroke="#d08a80" stroke-width="4.0" stroke-dasharray="2.2 5.6" stroke-dashoffset="1.2328641630991517" stroke-linecap="round" opacity="1"/>
<line x1="190.8" y1="441.0" x2="275.5" y2="488.0" stroke="#77727a" stroke-width="4.0" stroke-dasharray="2.2 5.6" stroke-dashoffset="2.718804296179652" stroke-linecap="round" opacity="1"/>
<line x1="186.7" y1="441.0" x2="257.7" y2="488.0" stroke="#c2645a" stroke-width="4.6" stroke-dasharray="2.2 5.6" stroke-dashoffset="2.869705939640504" stroke-linecap="round" opacity="1"/>
<line x1="183.4" y1="441.0" x2="243.6" y2="488.0" stroke="#77727a" stroke-width="4.6" stroke-dasharray="2.2 5.6" stroke-dashoffset="0.06557094794451102" stroke-linecap="round" opacity="1"/>
<line x1="180.5" y1="441.0" x2="230.9" y2="488.0" stroke="#c2645a" stroke-width="4.6" stroke-dasharray="2.2 5.6" stroke-dashoffset="1.0836490023192407" stroke-linecap="round" opacity="1"/>
<line x1="178.1" y1="441.0" x2="220.4" y2="488.0" stroke="#5fb286" stroke-width="4.6" stroke-dasharray="2.2 5.6" stroke-dashoffset="1.3974118300555516" stroke-linecap="round" opacity="1"/>
<line x1="175.7" y1="441.0" x2="209.8" y2="488.0" stroke="#77727a" stroke-width="4.6" stroke-dasharray="2.2 5.6" stroke-dashoffset="4.581726859042759" stroke-linecap="round" opacity="1"/>
<line x1="173.6" y1="441.0" x2="200.7" y2="488.0" stroke="#d08a80" stroke-width="4.6" stroke-dasharray="2.2 5.6" stroke-dashoffset="3.828627258145709" stroke-linecap="round" opacity="1"/>
<line x1="171.6" y1="441.0" x2="192.0" y2="488.0" stroke="#77727a" stroke-width="4.6" stroke-dasharray="2.2 5.6" stroke-dashoffset="0.7980210617901912" stroke-linecap="round" opacity="1"/>
<line x1="169.8" y1="441.0" x2="184.1" y2="488.0" stroke="#c2645a" stroke-width="4.6" stroke-dasharray="2.2 5.6" stroke-dashoffset="3.9857349571560223" stroke-linecap="round" opacity="1"/>
<line x1="168.0" y1="441.0" x2="176.3" y2="488.0" stroke="#77727a" stroke-width="4.6" stroke-dasharray="2.2 5.6" stroke-dashoffset="0.6938370919945158" stroke-linecap="round" opacity="1"/>
<line x1="166.2" y1="441.0" x2="168.7" y2="488.0" stroke="#c2645a" stroke-width="4.6" stroke-dasharray="2.2 5.6" stroke-dashoffset="3.087262602330583" stroke-linecap="round" opacity="1"/>
<line x1="164.5" y1="441.0" x2="161.2" y2="488.0" stroke="#5fb286" stroke-width="4.6" stroke-dasharray="2.2 5.6" stroke-dashoffset="0.6334961627513486" stroke-linecap="round" opacity="1"/>
<line x1="162.8" y1="441.0" x2="153.6" y2="488.0" stroke="#77727a" stroke-width="4.6" stroke-dasharray="2.2 5.6" stroke-dashoffset="0.00887431101267322" stroke-linecap="round" opacity="1"/>
<line x1="161.0" y1="441.0" x2="145.7" y2="488.0" stroke="#d08a80" stroke-width="4.6" stroke-dasharray="2.2 5.6" stroke-dashoffset="4.357023723621411" stroke-linecap="round" opacity="1"/>
<line x1="159.0" y1="441.0" x2="137.1" y2="488.0" stroke="#77727a" stroke-width="4.6" stroke-dasharray="2.2 5.6" stroke-dashoffset="1.0472819124755894" stroke-linecap="round" opacity="1"/>
<line x1="156.8" y1="441.0" x2="127.4" y2="488.0" stroke="#c2645a" stroke-width="4.6" stroke-dasharray="2.2 5.6" stroke-dashoffset="1.0774058461236613" stroke-linecap="round" opacity="1"/>
<line x1="154.2" y1="441.0" x2="116.1" y2="488.0" stroke="#77727a" stroke-width="4.6" stroke-dasharray="2.2 5.6" stroke-dashoffset="4.912105544129626" stroke-linecap="round" opacity="1"/>
<line x1="151.0" y1="441.0" x2="112.0" y2="478.7" stroke="#c2645a" stroke-width="4.6" stroke-dasharray="2.2 5.6" stroke-dashoffset="4.362038827184009" stroke-linecap="round" opacity="1"/>
<line x1="147.6" y1="441.0" x2="112.0" y2="468.8" stroke="#5fb286" stroke-width="4.6" stroke-dasharray="2.2 5.6" stroke-dashoffset="1.4465258387346325" stroke-linecap="round" opacity="1"/>
<line x1="196.0" y1="436.5" x2="283.0" y2="438.5" stroke="#c2645a" stroke-width="3.7" stroke-dasharray="0 5.4" stroke-dashoffset="4.807389944750417" stroke-linecap="round" opacity="1"/>
<line x1="204.0" y1="441.5" x2="283.0" y2="444.0" stroke="#77727a" stroke-width="3.7" stroke-dasharray="0 5.4" stroke-dashoffset="2.696117344354053" stroke-linecap="round" opacity="1"/>
<line x1="212.0" y1="446.8" x2="283.0" y2="449.6" stroke="#d08a80" stroke-width="3.7" stroke-dasharray="0 5.4" stroke-dashoffset="3.3891523862529613" stroke-linecap="round" opacity="1"/>
<line x1="222.0" y1="452.3" x2="283.0" y2="455.0" stroke="#77727a" stroke-width="3.7" stroke-dasharray="0 5.4" stroke-dashoffset="1.023897572668964" stroke-linecap="round" opacity="1"/>
<line x1="234.0" y1="458.0" x2="283.0" y2="460.6" stroke="#c2645a" stroke-width="3.7" stroke-dasharray="0 5.4" stroke-dashoffset="4.704880005439995" stroke-linecap="round" opacity="1"/>
<line x1="247.0" y1="464.0" x2="283.0" y2="466.0" stroke="#77727a" stroke-width="3.7" stroke-dasharray="0 5.4" stroke-dashoffset="3.453209705534541" stroke-linecap="round" opacity="1"/>
<line x1="260.0" y1="469.5" x2="283.0" y2="471.3" stroke="#c2645a" stroke-width="3.7" stroke-dasharray="0 5.4" stroke-dashoffset="4.832821561585977" stroke-linecap="round" opacity="1"/>
<ellipse cx="231" cy="452.5" rx="4" ry="2.6" fill="#5fb286"/>
<ellipse cx="252" cy="455.5" rx="4" ry="2.6" fill="#5fb286"/>
<ellipse cx="268" cy="457.5" rx="4" ry="2.6" fill="#5fb286"/>
<ellipse cx="273" cy="446.5" rx="4" ry="2.6" fill="#5fb286"/>
<circle cx="75.4" cy="486.8" r="1.7" fill="#cf7a3a" opacity="0.85"/>
<circle cx="79.6" cy="481.8" r="1.7" fill="#cf7a3a" opacity="0.8"/>
<circle cx="83.9" cy="485.2" r="1.7" fill="#cf7a3a" opacity="0.85"/>
<circle cx="87.7" cy="480.2" r="1.7" fill="#cf7a3a" opacity="0.8"/>
<circle cx="94.3" cy="485.2" r="1.7" fill="#cf7a3a" opacity="0.85"/>
<circle cx="96.5" cy="480.2" r="1.7" fill="#cf7a3a" opacity="0.8"/>
<circle cx="102.5" cy="485.8" r="1.7" fill="#cf7a3a" opacity="0.85"/>
<circle cx="106.4" cy="480.8" r="1.7" fill="#cf7a3a" opacity="0.8"/>
<circle cx="111.9" cy="485.9" r="1.7" fill="#cf7a3a" opacity="0.85"/>
<circle cx="115.4" cy="480.9" r="1.7" fill="#cf7a3a" opacity="0.8"/>
<circle cx="121.6" cy="485.1" r="1.7" fill="#cf7a3a" opacity="0.85"/>
<circle cx="123.7" cy="480.1" r="1.7" fill="#cf7a3a" opacity="0.8"/>
<circle cx="128.6" cy="485.9" r="1.7" fill="#cf7a3a" opacity="0.85"/>
<circle cx="134.7" cy="480.9" r="1.7" fill="#cf7a3a" opacity="0.8"/>
<circle cx="137.6" cy="485.4" r="1.7" fill="#cf7a3a" opacity="0.85"/>
<circle cx="143.9" cy="480.4" r="1.7" fill="#cf7a3a" opacity="0.8"/>
<circle cx="148.2" cy="484.3" r="1.7" fill="#cf7a3a" opacity="0.85"/>
<circle cx="150.5" cy="479.3" r="1.7" fill="#cf7a3a" opacity="0.8"/>
<circle cx="156.0" cy="483.5" r="1.7" fill="#cf7a3a" opacity="0.85"/>
<circle cx="162.4" cy="478.5" r="1.7" fill="#cf7a3a" opacity="0.8"/>
<circle cx="166.8" cy="483.6" r="1.7" fill="#cf7a3a" opacity="0.85"/>
<circle cx="171.3" cy="478.6" r="1.7" fill="#cf7a3a" opacity="0.8"/>
<circle cx="174.5" cy="484.9" r="1.7" fill="#cf7a3a" opacity="0.85"/>
<circle cx="178.6" cy="479.9" r="1.7" fill="#cf7a3a" opacity="0.8"/>
<circle cx="184.8" cy="483.9" r="1.7" fill="#cf7a3a" opacity="0.85"/>
<circle cx="186.8" cy="478.9" r="1.7" fill="#cf7a3a" opacity="0.8"/>
<circle cx="193.9" cy="484.2" r="1.7" fill="#cf7a3a" opacity="0.85"/>
<circle cx="198.1" cy="479.2" r="1.7" fill="#cf7a3a" opacity="0.8"/>
<circle cx="203.3" cy="482.6" r="1.7" fill="#cf7a3a" opacity="0.85"/>
<circle cx="204.8" cy="477.6" r="1.7" fill="#cf7a3a" opacity="0.8"/>
<circle cx="211.3" cy="483.0" r="1.7" fill="#cf7a3a" opacity="0.85"/>
<circle cx="216.3" cy="478.0" r="1.7" fill="#cf7a3a" opacity="0.8"/>
<circle cx="221.3" cy="482.8" r="1.7" fill="#cf7a3a" opacity="0.85"/>
<circle cx="224.1" cy="477.8" r="1.7" fill="#cf7a3a" opacity="0.8"/>
<circle cx="228.5" cy="482.6" r="1.7" fill="#cf7a3a" opacity="0.85"/>
<circle cx="232.0" cy="477.6" r="1.7" fill="#cf7a3a" opacity="0.8"/>
<circle cx="236.9" cy="481.9" r="1.7" fill="#cf7a3a" opacity="0.85"/>
<circle cx="242.6" cy="476.9" r="1.7" fill="#cf7a3a" opacity="0.8"/>
<circle cx="246.0" cy="483.6" r="1.7" fill="#cf7a3a" opacity="0.85"/>
<circle cx="249.6" cy="478.6" r="1.7" fill="#cf7a3a" opacity="0.8"/>
<circle cx="256.1" cy="483.4" r="1.7" fill="#cf7a3a" opacity="0.85"/>
<circle cx="259.7" cy="478.4" r="1.7" fill="#cf7a3a" opacity="0.8"/>
<circle cx="265.3" cy="481.7" r="1.7" fill="#cf7a3a" opacity="0.85"/>
<circle cx="270.0" cy="476.7" r="1.7" fill="#cf7a3a" opacity="0.8"/>
<circle cx="273.8" cy="482.0" r="1.7" fill="#cf7a3a" opacity="0.85"/>
<circle cx="276.7" cy="477.0" r="1.7" fill="#cf7a3a" opacity="0.8"/>
<circle cx="281.6" cy="482.7" r="1.7" fill="#cf7a3a" opacity="0.85"/>
<circle cx="287.0" cy="477.7" r="1.7" fill="#cf7a3a" opacity="0.8"/>
</g>
<ellipse cx="176" cy="409" rx="14" ry="15" fill="#39424f" opacity="0.2" filter="url(#fB5)"/>
<ellipse cx="180" cy="450" rx="45" ry="32" fill="#39485a" opacity="0.25" filter="url(#fB8)"/>
<ellipse cx="154.1" cy="387.7" rx="5.0" ry="4.2" fill="url(#gBlue)"/>
<ellipse cx="182.6" cy="389.3" rx="5.0" ry="4.2" fill="url(#gBlue)"/>
<ellipse cx="206.2" cy="390.4" rx="4.8" ry="4.0" fill="url(#gBlue)"/>
<ellipse cx="131.5" cy="438" rx="4.8" ry="4.0" fill="url(#gBlue)"/>
<ellipse cx="161.5" cy="439.5" rx="4.8" ry="4.0" fill="url(#gBlue)"/>
<ellipse cx="186" cy="436.5" rx="5.0" ry="4.2" fill="url(#gBlue)"/>
<ellipse cx="194" cy="439" rx="4.3" ry="3.7" fill="url(#gBlue)"/>
<ellipse cx="213" cy="435.5" rx="4.3" ry="3.7" fill="url(#gBlue)"/>
<ellipse cx="221" cy="436.5" rx="3.9" ry="3.3" fill="url(#gBlue)"/>
<ellipse cx="238.5" cy="434.5" rx="3.7" ry="3.1" fill="url(#gBlue)"/>
<ellipse cx="159" cy="415.5" rx="3.5" ry="2.9" fill="url(#gBlue)"/>
<ellipse cx="110" cy="464.5" rx="3.0" ry="2.6" fill="url(#gBlue)"/>
<ellipse cx="146" cy="466" rx="3.2" ry="2.8" fill="url(#gBlue)"/>
<ellipse cx="196" cy="466" rx="3.2" ry="2.8" fill="url(#gBlue)"/>
<ellipse cx="176" cy="452" rx="3.5" ry="2.9" fill="url(#gBlue)"/>
<ellipse cx="172" cy="464" rx="3.0" ry="2.6" fill="url(#gBlue)"/>
<!-- circuit -->
<g stroke="#0a0a0a" stroke-width="3.4" fill="none">
  <line x1="324.6" y1="312" x2="324.6" y2="386"/>
  <line x1="306.8" y1="385.8" x2="342.4" y2="385.8"/>
  <line x1="314.5" y1="407" x2="334.2" y2="407"/>
  <line x1="324.6" y1="407" x2="324.6" y2="481.5"/>
</g>


<g fill="none" stroke="#a9d18e" stroke-width="3.1">
  <path d="M506.7,315 C470,318 436,372 434.8,415.2"/>
  <path d="M573,315 C612,318 648,374 650.2,416.0"/>
  <path d="M629.5,475.5 C618,500 484,502 464.2,482.4"/>
  <path d="M563.5,294 C566,255 521,255 518.3,286.3"/>
  <path d="M433.5,420 C428,398 396,398 396,445 C396,496 421,494 431.9,477.7"/>
  <path d="M651,421 C658,398 689,398 689,445 C689,494 666,494 654.9,476.9"/>
</g>
<g fill="#a9d18e" stroke="none">
  <polygon points="434.6,422.2 430.5,412.0 434.8,415.4 439.4,412.4"/>
  <polygon points="650.4,423.0 645.6,413.2 650.2,416.2 654.5,412.8"/>
  <polygon points="458.8,477.9 469.4,480.9 464.0,482.3 463.6,487.8"/>
  <polygon points="517.2,293.2 514.3,282.6 518.3,286.5 523.2,284.0"/>
  <polygon points="436.2,472.2 433.6,482.9 432.0,477.6 426.5,477.3"/>
  <polygon points="650.6,471.4 660.3,476.5 654.8,476.8 653.2,482.1"/>
</g>
<g stroke="#14ae5c" stroke-width="3.3" fill="none">
  <line x1="481.3" y1="423.7" x2="532.8" y2="351.5"/>
  <line x1="606.2" y1="423" x2="547.4" y2="351"/>
  <line x1="490.5" y1="444.6" x2="588" y2="444.6"/>
</g>
<g fill="#14ae5c">
  <polygon points="537.6,344.8 535.2,357.2 532.3,352.3 526.6,351.1"/>
  <polygon points="542.3,344.8 553.7,350.4 548.1,351.9 545.5,357.0"/>
  <polygon points="596.6,444.6 585.1,449.9 587.4,444.6 585.1,439.4"/>
</g>
<g fill="#ffffff" stroke="#000" stroke-width="2.8">
  <ellipse cx="539.9" cy="314.7" rx="32.6" ry="28.4"/>
  <ellipse cx="458" cy="446.6" rx="32.8" ry="29.2"/>
  <ellipse cx="629.3" cy="445.3" rx="32" ry="29"/>
</g>
<g fill="#1c1c1c" font-family="'Liberation Sans', Arial, sans-serif">
  <text y="322.7" font-size="22"><tspan x="521.6" textLength="9.68" lengthAdjust="spacingAndGlyphs">S</tspan><tspan x="533" textLength="7.99" lengthAdjust="spacingAndGlyphs">-</tspan><tspan x="543.1" y="323.7" font-size="19.3" font-family="'Liberation Serif','Noto Serif CJK SC',serif" textLength="19.88" lengthAdjust="spacingAndGlyphs">Ⅱ</tspan></text>
  <text y="452.7" font-size="22.4"><tspan x="446.5" textLength="10.16" lengthAdjust="spacingAndGlyphs">S</tspan><tspan x="458.3" textLength="8.2" lengthAdjust="spacingAndGlyphs">-</tspan><tspan x="467.1" font-size="21.6">I</tspan></text>
  <text y="452.7" font-size="22"><tspan x="606.6" textLength="9.68" lengthAdjust="spacingAndGlyphs">S</tspan><tspan x="617.7" textLength="7.99" lengthAdjust="spacingAndGlyphs">-</tspan><tspan x="628.5" y="453.7" font-size="19.3" font-family="'Liberation Serif','Noto Serif CJK SC',serif" textLength="18.53" lengthAdjust="spacingAndGlyphs">Ⅲ</tspan></text>
</g>
<g font-size="18" fill="#111" stroke="#111" stroke-width="0.25" font-family="'Liberation Sans', Arial, sans-serif">
  <text x="529.2" y="467"><tspan>P</tspan><tspan font-size="12" dy="3.8">13</tspan></text>
  <text x="520.6" y="518.9"><tspan>P</tspan><tspan font-size="12" dy="4">31</tspan><tspan fill="#ee1c25" stroke="#ee1c25" dy="-4" font-size="18">P</tspan><tspan fill="#ee1c25" stroke="#ee1c25" font-size="12" dy="4">13</tspan></text>
  <text x="645.3" y="509.3"><tspan>P</tspan><tspan font-size="12" dy="4">33</tspan><tspan fill="#ee1c25" stroke="#ee1c25" dy="-4" font-size="18">P</tspan><tspan fill="#ee1c25" stroke="#ee1c25" font-size="12" dy="4">13</tspan></text>
  <text transform="translate(430.8,373.5) rotate(-63)" letter-spacing="1.2"><tspan>P</tspan><tspan font-size="12" dy="4" dx="0.8">21</tspan><tspan fill="#ee1c25" stroke="#ee1c25" dy="-4" dx="0.8" font-size="18">P</tspan><tspan fill="#ee1c25" stroke="#ee1c25" font-size="12" dy="4" dx="0.6">12</tspan></text>
  <text transform="translate(623.5,321.3) rotate(53)" letter-spacing="0.3"><tspan>P</tspan><tspan font-size="12" dy="4">23</tspan><tspan fill="#ee1c25" stroke="#ee1c25" dy="-4" font-size="18">P</tspan><tspan fill="#ee1c25" stroke="#ee1c25" font-size="12" dy="4">12</tspan></text>
  <text transform="translate(490.4,394.6) rotate(-55)"><tspan>P</tspan><tspan font-size="12" dy="4" dx="3.2">12</tspan></text>
  <text transform="translate(580.8,371.2) rotate(51)"><tspan>P</tspan><tspan font-size="12" dy="5.5" dx="1.7">32</tspan></text>
</g>


<g font-size="28" fill="#0a0a0a" font-family="'Liberation Sans', Arial, sans-serif">
  <text x="16.4" y="39.9" textLength="36" lengthAdjust="spacingAndGlyphs">(a)</text>
  <text x="364.6" y="40.4" textLength="36.5" lengthAdjust="spacingAndGlyphs">(b)</text>
  <text x="19.8" y="279.6" textLength="35" lengthAdjust="spacingAndGlyphs">(c)</text>
  <text x="367" y="279.5" textLength="36.5" lengthAdjust="spacingAndGlyphs">(d)</text>
</g>

</svg>
</body></html>
